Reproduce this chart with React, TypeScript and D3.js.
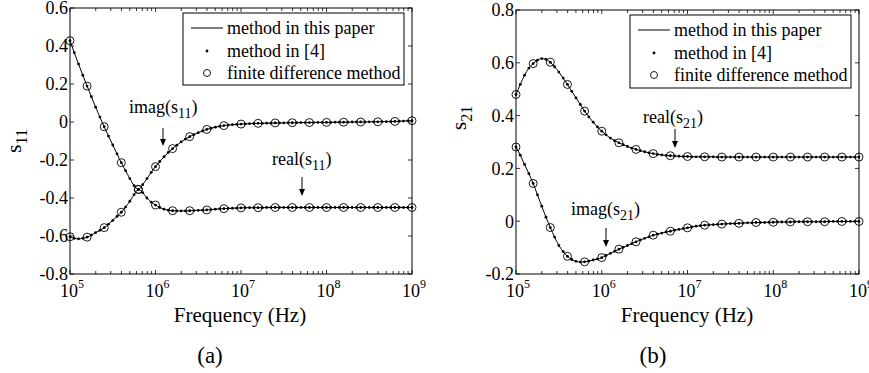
import { useEffect } from "react";
import * as d3 from "d3";

// sampling grids (exponents of frequency, Hz)
const denseFreq = d3.range(81).map(i => Math.pow(10, 5 + i * 0.05));
const fdFreq = d3.range(21).map(i => Math.pow(10, 5 + i * 0.2));
const xMajor = [1e5, 1e6, 1e7, 1e8, 1e9];
const xMajorExp = ["5", "6", "7", "8", "9"];
const xMinor = [5, 6, 7, 8].flatMap(e => d3.range(2, 10).map(k => k * Math.pow(10, e)));

// panel (a): s11, read at 0.05-decade steps (line + "method in [4]" dots)
const imagS11 = [
  0.428, 0.365, 0.305, 0.246, 0.189, 0.133, 0.078, 0.026, -0.025, -0.074,
  -0.121, -0.168, -0.214, -0.256, -0.298, -0.335, -0.355, -0.330, -0.298, -0.265,
  -0.235, -0.208, -0.183, -0.160, -0.140, -0.122, -0.105, -0.090, -0.077, -0.066,
  -0.056, -0.047, -0.039, -0.033, -0.027, -0.023, -0.019, -0.016, -0.014, -0.012,
  -0.011, -0.010, -0.009, -0.008, -0.007, -0.007, -0.006, -0.006, -0.005, -0.005,
  -0.005, -0.004, -0.004, -0.004, -0.003, -0.003, -0.003, -0.003, -0.002, -0.002,
  -0.002, -0.002, -0.001, -0.001, -0.001, -0.001, 0.000, 0.000, 0.000, 0.000,
  0.001, 0.001, 0.001, 0.002, 0.002, 0.002, 0.003, 0.004, 0.005, 0.006,
  0.007,
];
const realS11 = [
  -0.604, -0.612, -0.615, -0.612, -0.606, -0.595, -0.582, -0.570, -0.556, -0.538,
  -0.518, -0.497, -0.475, -0.448, -0.417, -0.382, -0.355, -0.372, -0.400, -0.422,
  -0.437, -0.450, -0.459, -0.464, -0.467, -0.468, -0.468, -0.468, -0.467, -0.466,
  -0.465, -0.464, -0.463, -0.461, -0.459, -0.457, -0.456, -0.455, -0.454, -0.453,
  -0.452, -0.451, -0.451, -0.451, -0.451, -0.451, -0.450, -0.450, -0.450, -0.450,
  -0.450, -0.450, -0.450, -0.450, -0.450, -0.450, -0.450, -0.450, -0.450, -0.450,
  -0.450, -0.450, -0.450, -0.450, -0.450, -0.450, -0.450, -0.450, -0.450, -0.450,
  -0.450, -0.450, -0.450, -0.450, -0.450, -0.450, -0.450, -0.450, -0.450, -0.450,
  -0.450,
];
// finite difference method, 0.2-decade steps
const imagS11Fd = [
  0.428, 0.189, -0.025, -0.214, -0.355, -0.235, -0.140, -0.077, -0.039, -0.019,
  -0.011, -0.007, -0.005, -0.004, -0.003, -0.002, -0.001, 0.000, 0.001, 0.003, 0.007,
];
const realS11Fd = [
  -0.604, -0.606, -0.556, -0.475, -0.355, -0.437, -0.467, -0.467, -0.463, -0.456,
  -0.452, -0.451, -0.450, -0.450, -0.450, -0.450, -0.450, -0.450, -0.450, -0.450, -0.450,
];
const s11Ticks = [-0.8, -0.6, -0.4, -0.2, 0, 0.2, 0.4, 0.6];

// panel (b): s21
const realS21 = [
  0.480, 0.518, 0.553, 0.580, 0.597, 0.610, 0.616, 0.613, 0.602, 0.585,
  0.565, 0.542, 0.518, 0.492, 0.467, 0.442, 0.417, 0.395, 0.375, 0.357,
  0.341, 0.327, 0.315, 0.305, 0.297, 0.290, 0.283, 0.277, 0.272, 0.267,
  0.263, 0.259, 0.256, 0.253, 0.251, 0.249, 0.248, 0.247, 0.246, 0.245,
  0.245, 0.244, 0.244, 0.244, 0.244, 0.244, 0.244, 0.243, 0.243, 0.243,
  0.243, 0.243, 0.243, 0.243, 0.243, 0.243, 0.243, 0.243, 0.243, 0.243,
  0.243, 0.243, 0.243, 0.243, 0.243, 0.243, 0.243, 0.243, 0.243, 0.243,
  0.243, 0.243, 0.243, 0.243, 0.243, 0.243, 0.243, 0.243, 0.243, 0.243,
  0.243,
];
const imagS21 = [
  0.281, 0.250, 0.215, 0.180, 0.143, 0.100, 0.057, 0.015, -0.024, -0.060,
  -0.092, -0.115, -0.133, -0.145, -0.152, -0.155, -0.154, -0.151, -0.147, -0.143,
  -0.138, -0.130, -0.122, -0.114, -0.106, -0.099, -0.092, -0.085, -0.078, -0.071,
  -0.065, -0.059, -0.053, -0.049, -0.045, -0.041, -0.038, -0.034, -0.031, -0.028,
  -0.025, -0.022, -0.019, -0.017, -0.015, -0.014, -0.013, -0.012, -0.011, -0.010,
  -0.009, -0.009, -0.008, -0.007, -0.006, -0.006, -0.005, -0.005, -0.005, -0.004,
  -0.004, -0.003, -0.003, -0.003, -0.003, -0.002, -0.002, -0.002, -0.002, -0.002,
  -0.002, -0.002, -0.002, -0.001, -0.001, -0.001, -0.001, -0.001, -0.001, -0.001,
  -0.001,
];
const realS21Fd = [
  0.480, 0.597, 0.602, 0.518, 0.417, 0.341, 0.297, 0.272, 0.256, 0.248,
  0.245, 0.244, 0.243, 0.243, 0.243, 0.243, 0.243, 0.243, 0.243, 0.243, 0.243,
];
const imagS21Fd = [
  0.281, 0.143, -0.024, -0.133, -0.154, -0.138, -0.106, -0.078, -0.053, -0.038,
  -0.025, -0.015, -0.011, -0.008, -0.005, -0.004, -0.003, -0.002, -0.002, -0.001, -0.001,
];
const s21Ticks = [-0.2, 0, 0.2, 0.4, 0.6, 0.8];

const legendLabels = ["method in this paper", "method in [4]", "finite difference method"];

const SERIF = { fontFamily: '"Liberation Serif"' };

const panels = [
  {
    xr: [70, 412], yd: [-0.8, 0.6], yr: [274, 8], yTicks: s11Ticks,
    curves: [imagS11, realS11], fd: [imagS11Fd, realS11Fd],
    ylabel: ["s", "11"], ylabelX: 21, ylabelY: 141,
    legend: { x: 183, y: 13, w: 221, h: 72 },
    notes: [
      { label: "imag(s", sub: "11", tx: 129, ty: 113, ax: 163, ay1: 128, ay2: 146 },
      { label: "real(s", sub: "11", tx: 272, ty: 165, ax: 302, ay1: 177, ay2: 196 },
    ],
    caption: "(a)", capX: 210, xlabelX: 240,
  },
  {
    xr: [516, 859], yd: [-0.2, 0.8], yr: [274, 10], yTicks: s21Ticks,
    curves: [realS21, imagS21], fd: [realS21Fd, imagS21Fd],
    ylabel: ["s", "21"], ylabelX: 466, ylabelY: 118,
    legend: { x: 630, y: 15, w: 221, h: 73 },
    notes: [
      { label: "real(s", sub: "21", tx: 643, ty: 123, ax: 675, ay1: 129, ay2: 148 },
      { label: "imag(s", sub: "21", tx: 571, ty: 215, ax: 606, ay1: 228, ay2: 247 },
    ],
    caption: "(b)", capX: 653, xlabelX: 687,
  },
];

function Panel({ p }) {
  const x = d3.scaleLog().domain([1e5, 1e9]).range(p.xr);
  const y = d3.scaleLinear().domain(p.yd).range(p.yr);
  const [x0, x1] = p.xr;
  const [yb, yt] = p.yr;
  const line = d3.line().x(d => x(d[0])).y(d => y(d[1])).curve(d3.curveMonotoneX);
  const L = p.legend;
  const rows = [L.y + 15, L.y + 38, L.y + 60];

  return (
    <g>
      {/* ticks inside, all four sides */}
      <g stroke="#000" strokeWidth={0.8}>
        {xMinor.map((v, i) => (
          <g key={"m" + i}>
            <line x1={x(v)} x2={x(v)} y1={yb} y2={yb - 3} />
            <line x1={x(v)} x2={x(v)} y1={yt} y2={yt + 3} />
          </g>
        ))}
        {xMajor.map((v, i) => (
          <g key={"M" + i}>
            <line x1={x(v)} x2={x(v)} y1={yb} y2={yb - 4} />
            <line x1={x(v)} x2={x(v)} y1={yt} y2={yt + 4} />
          </g>
        ))}
        {p.yTicks.map((v, i) => (
          <g key={"y" + i}>
            <line x1={x0} x2={x0 + 4} y1={y(v)} y2={y(v)} />
            <line x1={x1} x2={x1 - 4} y1={y(v)} y2={y(v)} />
          </g>
        ))}
      </g>

      {/* tick labels */}
      {p.yTicks.map((v, i) => (
        <text key={"yl" + i} x={x0 - 2} y={y(v)} dy="0.35em" textAnchor="end" fontSize={18} style={SERIF}>
          {Math.abs(v) < 1e-9 ? "0" : String(+v.toFixed(1))}
        </text>
      ))}
      {xMajor.map((v, i) => (
        <text key={"xl" + i} x={x(v) + 2} y={yb + 23} textAnchor="middle" fontSize={18} style={SERIF}>
          <tspan>10</tspan>
          <tspan dy={-9} fontSize={12}>{xMajorExp[i]}</tspan>
        </text>
      ))}

      {/* axis labels */}
      <text x={p.xlabelX} y={322} textAnchor="middle" fontSize={21} style={SERIF}>Frequency (Hz)</text>
      <text transform={`translate(${p.ylabelX},${p.ylabelY}) rotate(-90)`} textAnchor="middle" fontSize={22} style={SERIF}>
        <tspan>{p.ylabel[0]}</tspan>
        <tspan dy={6} fontSize={16}>{p.ylabel[1]}</tspan>
      </text>
      <text x={p.capX} y={363} textAnchor="middle" fontSize={23} style={SERIF}>{p.caption}</text>

      {/* data */}
      {p.curves.map((vals, c) => {
        const pts = denseFreq.map((f, i) => [f, vals[i]]);
        return (
          <g key={"c" + c}>
            <path d={line(pts)} fill="none" stroke="#000" strokeWidth={1} />
            {pts.map((d, i) => (
              <circle key={i} cx={x(d[0])} cy={y(d[1])} r={1.4} fill="#000" />
            ))}
          </g>
        );
      })}
      {p.fd.map((vals, c) => (
        <g key={"f" + c}>
          {fdFreq.map((f, i) => (
            <circle key={i} cx={x(f)} cy={y(vals[i])} r={4} fill="none" stroke="#000" strokeWidth={0.9} />
          ))}
        </g>
      ))}

      {/* frame */}
      <rect x={x0} y={yt} width={x1 - x0} height={yb - yt} fill="none" stroke="#000" strokeWidth={1} />

      {/* annotations */}
      {p.notes.map((n, i) => (
        <g key={"n" + i}>
          <text x={n.tx} y={n.ty} fontSize={18} style={SERIF}>
            <tspan>{n.label}</tspan>
            <tspan dy={5} fontSize={14}>{n.sub}</tspan>
            <tspan dy={-5}>)</tspan>
          </text>
          <line x1={n.ax} x2={n.ax} y1={n.ay1} y2={n.ay2 - 5} stroke="#000" strokeWidth={1} />
          <path d={`M${n.ax - 3},${n.ay2 - 7}L${n.ax + 3},${n.ay2 - 7}L${n.ax},${n.ay2}Z`} fill="#000" />
        </g>
      ))}

      {/* legend */}
      <rect x={L.x} y={L.y} width={L.w} height={L.h} fill="#fff" stroke="#000" strokeWidth={1} />
      <line x1={L.x + 8} x2={L.x + 40} y1={rows[0]} y2={rows[0]} stroke="#000" strokeWidth={1} />
      <circle cx={L.x + 24} cy={rows[1]} r={1.4} fill="#000" />
      <circle cx={L.x + 24} cy={rows[2]} r={3.5} fill="none" stroke="#000" strokeWidth={0.9} />
      {legendLabels.map((s, i) => (
        <text key={"lg" + i} x={L.x + 44} y={rows[i]} dy="0.33em" fontSize={18} style={SERIF}>{s}</text>
      ))}
    </g>
  );
}

export default function App() {
  useEffect(() => {
    document.body.style.margin = "0";
  }, []);

  return (
    <svg width={869} height={373} style={{ display: "block", background: "#fff" }}>
      {panels.map((p, i) => <Panel key={i} p={p} />)}
    </svg>
  );
}
